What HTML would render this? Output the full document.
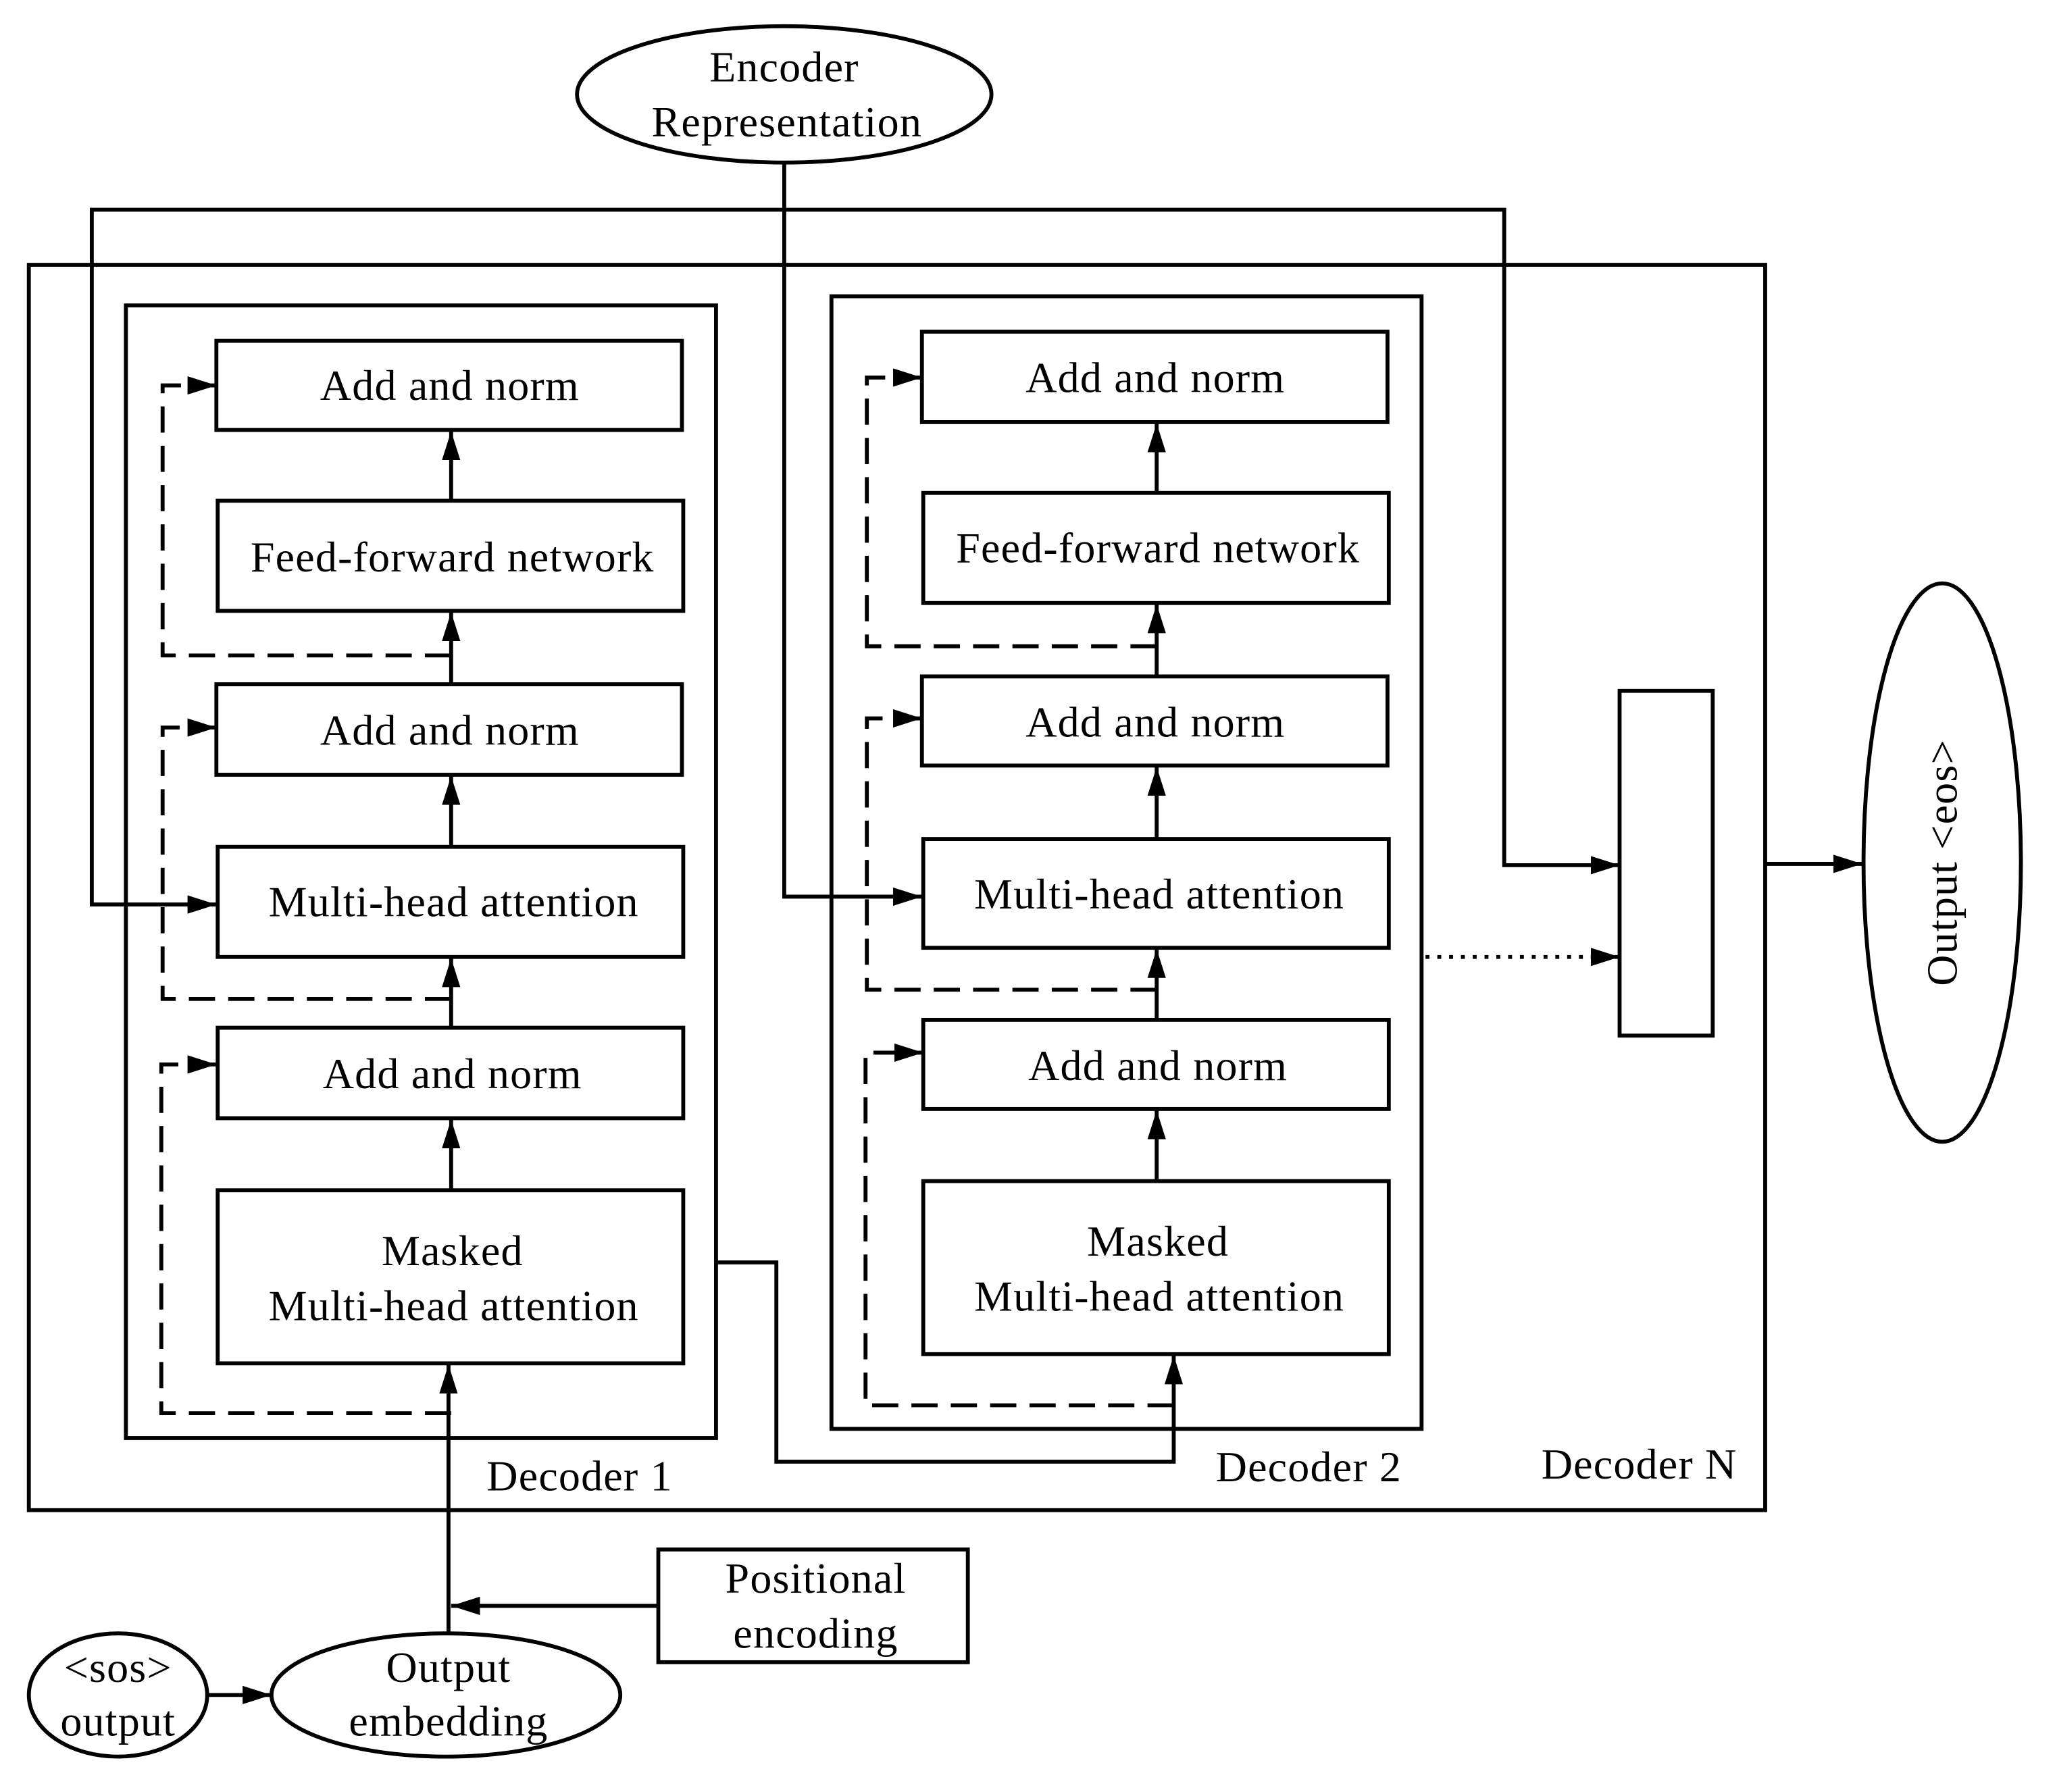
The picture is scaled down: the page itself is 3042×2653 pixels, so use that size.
<!DOCTYPE html>
<html><head><style>html,body{margin:0;padding:0;background:#fff}svg{display:block}</style></head>
<body>
<svg width="3042" height="2653" viewBox="0 0 1567 1367" preserveAspectRatio="none" xmlns="http://www.w3.org/2000/svg" font-family="Liberation Serif, serif" font-size="33" letter-spacing="0.6" text-anchor="middle">
<defs>
<marker id="b" markerWidth="22" markerHeight="14" refX="22" refY="7" orient="auto" markerUnits="userSpaceOnUse"><path d="M0,0L22,7L0,14z" fill="#000"/></marker></defs>
<g fill="none" stroke="#000" stroke-width="3">
<ellipse cx="598" cy="72" rx="158" ry="52"/>
<rect x="22" y="202" width="1324" height="950"/>
<rect x="96" y="233" width="450" height="864"/>
<rect x="634" y="226" width="450" height="864"/>
<rect x="165" y="260" width="355" height="68"/>
<rect x="166" y="382" width="355" height="84"/>
<rect x="165" y="522" width="355" height="69"/>
<rect x="166" y="646" width="355" height="84"/>
<rect x="166" y="784" width="355" height="69"/>
<rect x="166" y="908" width="355" height="132"/>
<rect x="703" y="253" width="355" height="69"/>
<rect x="704" y="376" width="355" height="84"/>
<rect x="703" y="516" width="355" height="68"/>
<rect x="704" y="640" width="355" height="83"/>
<rect x="704" y="778" width="355" height="68"/>
<rect x="704" y="901" width="355" height="132"/>
<rect x="1235" y="527" width="71" height="263"/>
<ellipse cx="1481" cy="658" rx="60" ry="213"/>
<rect x="502" y="1182" width="236" height="86"/>
<ellipse cx="340" cy="1293" rx="133" ry="47"/>
<ellipse cx="90" cy="1293" rx="68" ry="47"/>
<polyline points="598,124 598,684 703,684" marker-end="url(#b)"/>
<polyline points="165,690 70,690 70,160 1147,160 1147,660 1235,660" marker-end="url(#b)"/>
<line x1="70" y1="690" x2="165" y2="690" marker-end="url(#b)"/>
<line x1="344" y1="382" x2="344" y2="329" marker-end="url(#b)"/>
<line x1="344" y1="522" x2="344" y2="467" marker-end="url(#b)"/>
<line x1="344" y1="646" x2="344" y2="592" marker-end="url(#b)"/>
<line x1="344" y1="784" x2="344" y2="731" marker-end="url(#b)"/>
<line x1="344" y1="908" x2="344" y2="854" marker-end="url(#b)"/>
<line x1="342" y1="1246" x2="342" y2="1041" marker-end="url(#b)"/>
<line x1="882" y1="376" x2="882" y2="323" marker-end="url(#b)"/>
<line x1="882" y1="516" x2="882" y2="461" marker-end="url(#b)"/>
<line x1="882" y1="640" x2="882" y2="585" marker-end="url(#b)"/>
<line x1="882" y1="778" x2="882" y2="724" marker-end="url(#b)"/>
<line x1="882" y1="901" x2="882" y2="847" marker-end="url(#b)"/>
<polyline points="546,963 592,963 592,1115 895,1115 895,1034" marker-end="url(#b)"/>
<line x1="1346" y1="659" x2="1420" y2="659" marker-end="url(#b)"/>
<line x1="502" y1="1225" x2="344" y2="1225" marker-end="url(#b)"/>
<line x1="158" y1="1293" x2="207" y2="1293" marker-end="url(#b)"/>
<g stroke-dasharray="20,10">
<polyline points="344,500 124,500 124,294 145,294"/>
<polyline points="344,762 124,762 124,555 145,555"/>
<polyline points="344,1078 123,1078 123,812 145,812"/>
<polyline points="882,493 661,493 661,288 683,288"/>
<polyline points="882,755 661,755 661,548 683,548"/>
<polyline points="895,1072 660,1072 660,803 684,803"/>
</g>
<line x1="145" y1="294" x2="165" y2="294" marker-end="url(#b)"/>
<line x1="145" y1="555" x2="165" y2="555" marker-end="url(#b)"/>
<line x1="145" y1="812" x2="165" y2="812" marker-end="url(#b)"/>
<line x1="683" y1="288" x2="703" y2="288" marker-end="url(#b)"/>
<line x1="683" y1="548" x2="703" y2="548" marker-end="url(#b)"/>
<line x1="684" y1="803" x2="704" y2="803" marker-end="url(#b)"/>
<line x1="1087" y1="730" x2="1235" y2="730" stroke-dasharray="3,6" marker-end="url(#b)"/>
</g>
<g fill="#000">
<text x="598" y="62">Encoder</text><text x="600" y="104">Representation</text>
<text x="343" y="305">Add and norm</text>
<text x="345" y="436">Feed-forward network</text>
<text x="343" y="568">Add and norm</text>
<text x="346" y="699">Multi-head attention</text>
<text x="345" y="830">Add and norm</text>
<text x="345" y="965">Masked</text><text x="346" y="1007">Multi-head attention</text>
<text x="881" y="299">Add and norm</text>
<text x="883" y="429">Feed-forward network</text>
<text x="881" y="562">Add and norm</text>
<text x="884" y="693">Multi-head attention</text>
<text x="883" y="824">Add and norm</text>
<text x="883" y="958">Masked</text><text x="884" y="1000">Multi-head attention</text>
<text x="442" y="1137">Decoder 1</text>
<text x="998" y="1130">Decoder 2</text>
<text x="1250" y="1128">Decoder N</text>
<text x="622" y="1215">Positional</text><text x="622" y="1257">encoding</text>
<text x="342" y="1283">Output</text><text x="342" y="1324">embedding</text>
<text x="90" y="1283">&lt;sos&gt;</text><text x="90" y="1324">output</text>
<text x="0" y="0" transform="translate(1492,658) rotate(-90)">Output &lt;eos&gt;</text>
</g>
</svg>
</body></html>
